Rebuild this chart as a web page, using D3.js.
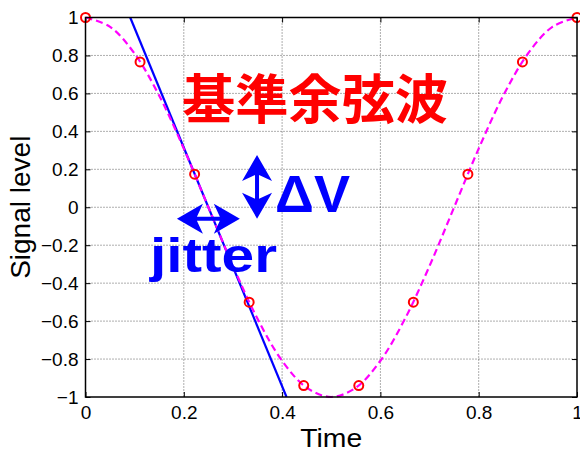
<!DOCTYPE html>
<html>
<head>
<meta charset="utf-8">
<script src="https://cdn.jsdelivr.net/npm/d3@7"></script>
<style>
  html, body { margin: 0; padding: 0; background: #fff; }
  svg { display: block; }
</style>
</head>
<body>
<svg id="chart" width="580" height="453"></svg>
<script>
// Axis ticks
const xTicks = [0, 0.2, 0.4, 0.6, 0.8, 1];
const yTicks = [-1, -0.8, -0.6, -0.4, -0.2, 0, 0.2, 0.4, 0.6, 0.8, 1];

// Reference cosine wave, sampled every 0.05
const waveT = [0, 0.05, 0.1, 0.15, 0.2, 0.25, 0.3, 0.35, 0.4, 0.45, 0.5,
               0.55, 0.6, 0.65, 0.7, 0.75, 0.8, 0.85, 0.9, 0.95, 1];
const waveV = [1, 0.951, 0.809, 0.588, 0.309, 0, -0.309, -0.588, -0.809, -0.951, -1,
               -0.951, -0.809, -0.588, -0.309, 0, 0.309, 0.588, 0.809, 0.951, 1];

// Sample points (circles)
const sampleT = [0, 0.111, 0.222, 0.333, 0.444, 0.556, 0.667, 0.778, 0.889, 1];
const sampleV = [1, 0.766, 0.174, -0.5, -0.94, -0.94, -0.5, 0.174, 0.766, 1];

// Tangent line through the falling zero crossing
const slopeT = [0.091, 0.409];
const slopeV = [1, -1];

const svg = d3.select("#chart");
const m = { left: 85.5, right: 577, top: 17.5, bottom: 397 };

const x = d3.scaleLinear().domain([0, 1]).range([m.left, m.right]);
const y = d3.scaleLinear().domain([-1, 1]).range([m.bottom, m.top]);

const fmt = v => (v === 0 ? "0" : (v < 0 ? "\u2212" : "") + String(Math.abs(v)));

// Grid
const grid = svg.append("g");
grid.selectAll("line.gx").data(xTicks.slice(1, -1)).join("line")
  .attr("x1", d => x(d)).attr("x2", d => x(d))
  .attr("y1", m.top).attr("y2", m.bottom)
  .attr("stroke", "#333").attr("stroke-width", 0.8).attr("stroke-dasharray", "1,2");
grid.selectAll("line.gy").data(yTicks.slice(1, -1)).join("line")
  .attr("y1", d => y(d)).attr("y2", d => y(d))
  .attr("x1", m.left).attr("x2", m.right)
  .attr("stroke", "#333").attr("stroke-width", 0.8).attr("stroke-dasharray", "1,2");

// Axes with inward ticks on all four sides
const fontAxis = "'Liberation Sans', Arial, sans-serif";
const axB = svg.append("g").attr("transform", `translate(0,${m.bottom})`)
  .call(d3.axisBottom(x).tickValues(xTicks).tickFormat(fmt).tickSizeInner(-5).tickSizeOuter(0).tickPadding(9));
const axL = svg.append("g").attr("transform", `translate(${m.left},0)`)
  .call(d3.axisLeft(y).tickValues(yTicks).tickFormat(fmt).tickSizeInner(-5).tickSizeOuter(0).tickPadding(7));
const axT = svg.append("g").attr("transform", `translate(0,${m.top})`)
  .call(d3.axisTop(x).tickValues(xTicks).tickFormat("").tickSizeInner(-5).tickSizeOuter(0));
const axR = svg.append("g").attr("transform", `translate(${m.right},0)`)
  .call(d3.axisRight(y).tickValues(yTicks).tickFormat("").tickSizeInner(-5).tickSizeOuter(0));
[axB, axL, axT, axR].forEach(a => {
  a.select(".domain").remove();
  a.selectAll("line").attr("stroke", "#000").attr("stroke-width", 1);
  a.selectAll("text").attr("font-family", fontAxis).attr("font-size", 19).attr("fill", "#000");
});
axB.selectAll("text").attr("dy", "0.71em");

// Data lines
svg.append("defs").append("clipPath").attr("id", "plot")
  .append("rect").attr("x", m.left).attr("y", m.top)
  .attr("width", m.right - m.left).attr("height", m.bottom - m.top);

const line = d3.line().x(d => x(d[0])).y(d => y(d[1]));

svg.append("path")
  .attr("clip-path", "url(#plot)")
  .datum(slopeT.map((t, i) => [t, slopeV[i]]))
  .attr("d", line)
  .attr("fill", "none").attr("stroke", "#0000ff").attr("stroke-width", 2.2);

svg.append("path")
  .datum(waveT.map((t, i) => [t, waveV[i]]))
  .attr("d", line.curve(d3.curveCatmullRom))
  .attr("fill", "none").attr("stroke", "#ff00ff").attr("stroke-width", 2.2)
  .attr("stroke-dasharray", "7,4");

svg.append("g").selectAll("circle")
  .data(sampleT.map((t, i) => [t, sampleV[i]]))
  .join("circle")
  .attr("cx", d => x(d[0])).attr("cy", d => y(d[1])).attr("r", 4.5)
  .attr("fill", "none").attr("stroke", "#ff0000").attr("stroke-width", 2);

// Plot frame
svg.append("rect")
  .attr("x", m.left).attr("y", m.top)
  .attr("width", m.right - m.left).attr("height", m.bottom - m.top)
  .attr("fill", "none").attr("stroke", "#000").attr("stroke-width", 1.5);

// Axis titles
svg.append("text")
  .attr("x", (m.left + m.right) / 2).attr("y", 447)
  .attr("text-anchor", "middle")
  .attr("font-family", fontAxis).attr("font-size", 25)
  .attr("textLength", 62).attr("lengthAdjust", "spacingAndGlyphs")
  .text("Time");
svg.append("text")
  .attr("transform", `translate(30,${(m.top + m.bottom) / 2}) rotate(-90)`)
  .attr("text-anchor", "middle")
  .attr("font-family", fontAxis).attr("font-size", 28)
  .text("Signal level");

// Annotations
svg.append("text")
  .attr("x", 182).attr("y", 119)
  .attr("font-family", "'Noto Sans CJK JP', sans-serif").attr("font-weight", 700)
  .attr("font-size", 53).attr("fill", "#ff0000")
  .attr("textLength", 266).attr("lengthAdjust", "spacingAndGlyphs")
  .text("基準余弦波");

svg.append("text")
  .attr("x", 275).attr("y", 212)
  .attr("font-family", fontAxis).attr("font-weight", 700)
  .attr("font-size", 51).attr("fill", "#0000ff")
  .attr("textLength", 75).attr("lengthAdjust", "spacingAndGlyphs")
  .text("ΔV");

svg.append("text")
  .attr("x", 150).attr("y", 272)
  .attr("font-family", fontAxis).attr("font-weight", 700)
  .attr("font-size", 49).attr("fill", "#0000ff")
  .attr("textLength", 127).attr("lengthAdjust", "spacingAndGlyphs")
  .text("jitter");

// Double-headed arrow with notched heads, drawn along +x then rotated
function doubleArrow(x1, y1, x2, y2) {
  const L = Math.hypot(x2 - x1, y2 - y1);
  const h = 26, w = 15, n = 6, s = 2;
  const p = [
    [0, 0], [h, -w], [h - n, -s], [L - h + n, -s], [L - h, -w], [L, 0],
    [L - h, w], [L - h + n, s], [h - n, s], [h, w]
  ];
  const ang = Math.atan2(y2 - y1, x2 - x1) * 180 / Math.PI;
  svg.append("path")
    .attr("transform", `translate(${x1},${y1}) rotate(${ang})`)
    .attr("d", "M" + p.map(q => q.join(",")).join("L") + "Z")
    .attr("fill", "#0000ff");
}
doubleArrow(x(0.349), y(0.275), x(0.349), y(-0.06));
doubleArrow(x(0.186), y(-0.06), x(0.314), y(-0.06));
</script>
</body>
</html>
